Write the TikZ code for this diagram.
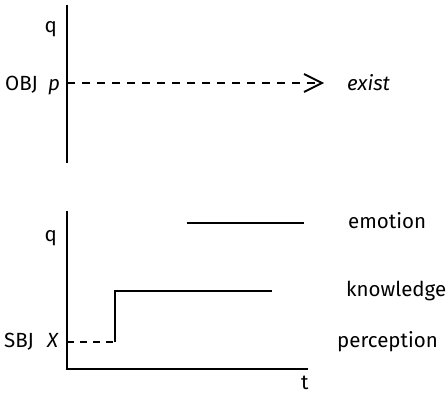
\documentclass[tikz,border=0pt]{standalone}
\usepackage{fontspec}
\setmainfont{Fira Sans}
\begin{document}
\begin{tikzpicture}[x=1pt,y=-1pt,
  axis/.style={line width=1.8pt},
  curve/.style={line width=1.8pt},
  dashline/.style={line width=1.6pt,dash pattern=on 8pt off 7pt},
  sdashline/.style={line width=1.3pt,dash pattern=on 7pt off 6pt},
  lbl/.style={inner sep=0pt,anchor=base west,font=\fontsize{20.5}{22}\selectfont}]
\useasboundingbox (0,0) rectangle (447,393);
% top panel
\coordinate (ta) at (67,5);
\coordinate (tb) at (67,163);
\draw[axis] (ta) -- (tb);
\coordinate (p0) at (67,83);
\coordinate (ptip) at (322,83);
\coordinate (pu) at (304,74);
\coordinate (pd) at (304,92);
\draw[dashline] (p0) -- (ptip);
\draw[line width=2pt,line join=miter] (pu) -- (ptip) -- (pd);
\node[lbl,anchor=base east] (qt) at (57,33) {q};
\node[lbl] (obj) at (5,91) {OBJ};
\node[lbl] (p) at (48,91) {\itshape p};
\node[lbl] (exist) at (347,91) {\itshape exist};
% bottom panel
\coordinate (ba) at (67,211);
\coordinate (bo) at (67,369);
\coordinate (bt) at (308,369);
\draw[axis] (ba) -- (bo) -- (bt);
\coordinate (e0) at (187,223);
\coordinate (e1) at (304,223);
\draw[curve] (e0) -- (e1);
\coordinate (x0) at (67,342);
\coordinate (k0) at (115,342);
\coordinate (k1) at (115,291);
\coordinate (k2) at (272,291);
\draw[sdashline] (x0) -- (k0);
\draw[curve] (k0) -- (k1) -- (k2);
\node[lbl,anchor=base east] (qb) at (57,241) {q};
\node[lbl] (emo) at (348,228) {emotion};
\node[lbl] (kn) at (346,296) {knowledge};
\node[lbl] (per) at (337,347) {perception};
\node[lbl] (sbj) at (4,347) {SBJ};
\node[lbl] (X) at (47,347) {\itshape X};
\node[lbl] (t) at (301,389) {t};
\end{tikzpicture}
\end{document}
